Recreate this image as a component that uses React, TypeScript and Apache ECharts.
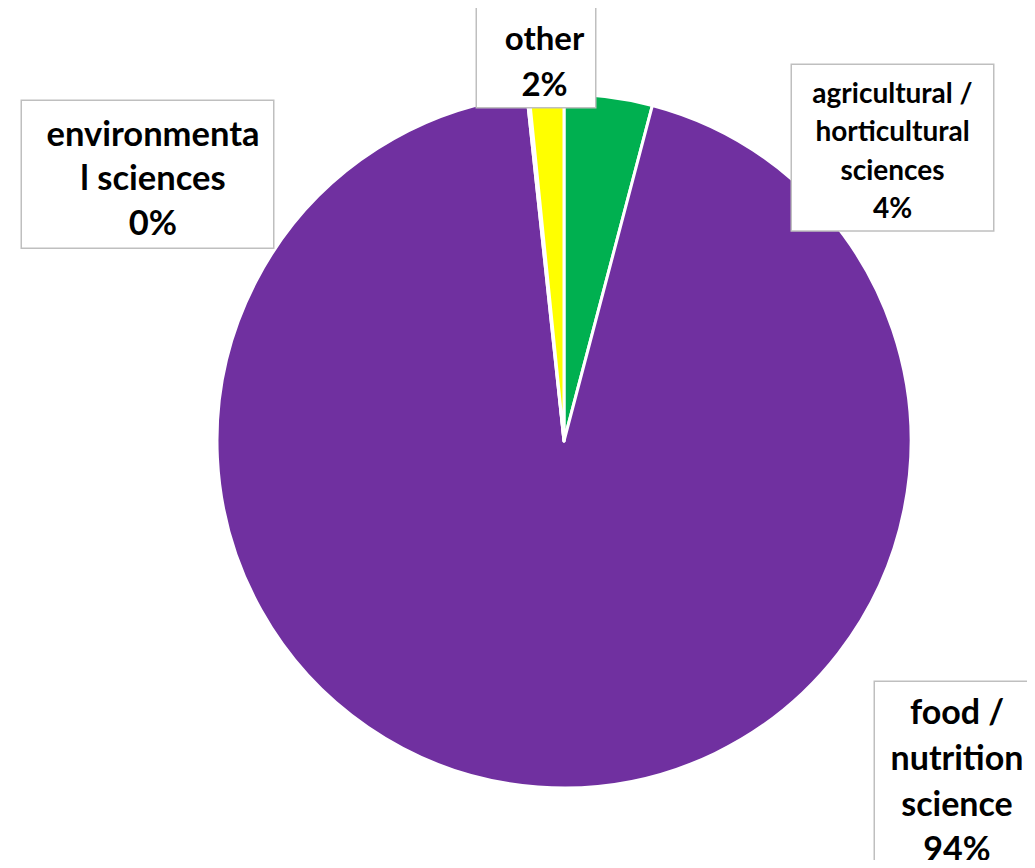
import React, { useEffect, useRef } from "react";
import * as echarts from "echarts";

const categories = [
  "agricultural / horticultural sciences",
  "food / nutrition science",
  "environmental sciences",
  "other",
];
const labelLines = [
  ["agricultural /", "horticultural", "sciences"],
  ["food /", "nutrition", "science"],
  ["environmenta", "l sciences"],
  ["other"],
];
const values = [4.1, 94.2, 0.1, 1.6];
const colors = ["#00b050", "#7030a0", "#0070c0", "#ffff00"];

// label box layout
const boxes = [
  { left: 792, top: 65, w: 201, pt: 8, pb: 4, pl: 0, pr: 0, fs: 28, lh: 38.3 },
  { left: 875, top: 682, w: 140, pt: 6, pb: 12, pl: 12, pr: 0, fs: 34, lh: 45.7 },
  { left: 22, top: 101, w: 240, pt: 9, pb: 4, pl: 11, pr: 0, fs: 34.5, lh: 44.5 },
  { left: 477, top: 8, w: 101, pt: 6, pb: 1, pl: 17, pr: 0, fs: 33, lh: 46 },
];

export default function App() {
  const ref = useRef<HTMLDivElement>(null);
  useEffect(() => {
    if (!ref.current) return;
    const chart = echarts.init(ref.current, null, { renderer: "svg" });
    const data = categories.map((name, i) => {
      const b = boxes[i];
      return {
        name,
        value: values[i],
        itemStyle: { color: colors[i] },
        label: {
          fontSize: b.fs,
          lineHeight: b.lh,
          width: b.w,
          overflow: "none",
          padding: [b.pt, b.pr, b.pb, b.pl],
        },
      };
    });
    chart.setOption({
      animation: false,
      backgroundColor: "#ffffff",
      series: [
        {
          type: "pie",
          center: [564, 441],
          radius: 347,
          startAngle: 90,
          clockwise: true,
          avoidLabelOverlap: false,
          minShowLabelAngle: 0,
          itemStyle: { borderColor: "#ffffff", borderWidth: 3 },
          emphasis: { disabled: true },
          labelLine: { show: false },
          label: {
            show: true,
            position: "outside",
            fontFamily: "Lato",
            fontWeight: "bold",
            color: "#000000",
            backgroundColor: "#ffffff",
            borderColor: "#bfbfbf",
            borderWidth: 1.5,
            align: "center",
            formatter: (p: any) =>
              labelLines[p.dataIndex].join("\n") + "\n" + Math.round(p.percent) + "%",
          },
          labelLayout: (p: any) => {
            const b = boxes[p.dataIndex];
            const totalW = b.w + b.pl + b.pr;
            return {
              x: b.left + totalW / 2,
              y: b.top,
              align: "center",
              verticalAlign: "top",
            };
          },
          data,
        },
      ],
    });
    return () => chart.dispose();
  }, []);
  return <div ref={ref} style={{ width: 1035, height: 868, margin: -8 }} />;
}
